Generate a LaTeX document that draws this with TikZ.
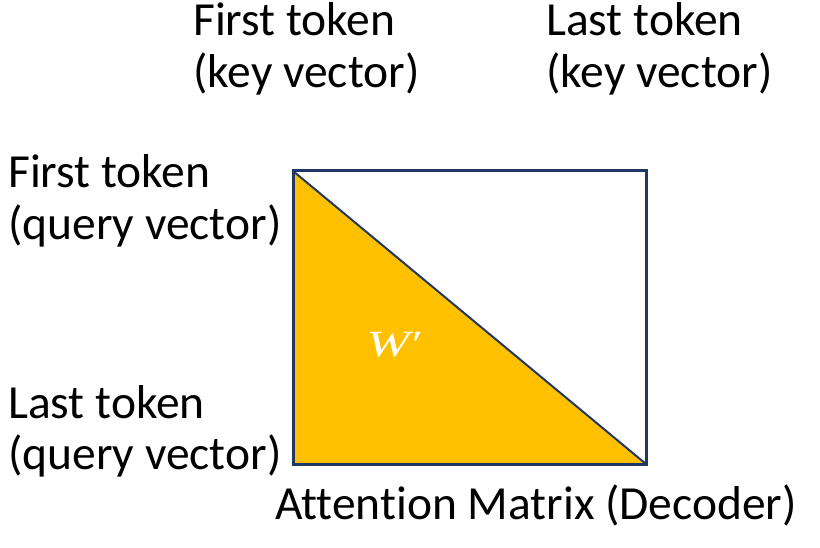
\documentclass[tikz,border=0pt]{standalone}
\usepackage{fontspec}
\setmainfont[Ligatures=NoCommon]{Carlito}
\newfontfamily\wserif{Liberation Serif}
\definecolor{navy}{HTML}{1F3864}
\definecolor{gold}{HTML}{FFC000}
\begin{document}
\begin{tikzpicture}[x=1pt,y=-1pt,
  lbl/.style={anchor=base west,inner sep=0pt,font=\fontsize{47.5}{56}\selectfont}]
\useasboundingbox (0,0) rectangle (820,548);
\coordinate (tl) at (293,171);
\coordinate (tr) at (646,171);
\coordinate (bl) at (293,464);
\coordinate (br) at (646,464);
\fill[gold] (tl) -- (bl) -- (br) -- cycle;
\draw[navy,line width=2pt] (tl) -- (br);
\draw[navy,line width=3pt] (tl) rectangle (br);
\node[text=white,anchor=base,inner sep=0pt,font=\fontsize{37}{42}\selectfont\wserif] (w) at (395,356) {\scalebox{1.4}[1]{\itshape W\kern1.5pt\upshape′}};
\node[lbl] (k1a) at (193,36) {First token};
\node[lbl] (k1b) at (193,88) {(key vector)};
\node[lbl] (k2a) at (546,36) {Last token};
\node[lbl] (k2b) at (546,88) {(key vector)};
\node[lbl] (q1a) at (8,188) {First token};
\node[lbl] (q1b) at (8,240) {(query vector)};
\node[lbl] (q2a) at (8,418) {Last token};
\node[lbl] (q2b) at (8,469) {(query vector)};
\node[lbl] (cap) at (275,519) {Attention Matrix (Decoder)};
\end{tikzpicture}
\end{document}
